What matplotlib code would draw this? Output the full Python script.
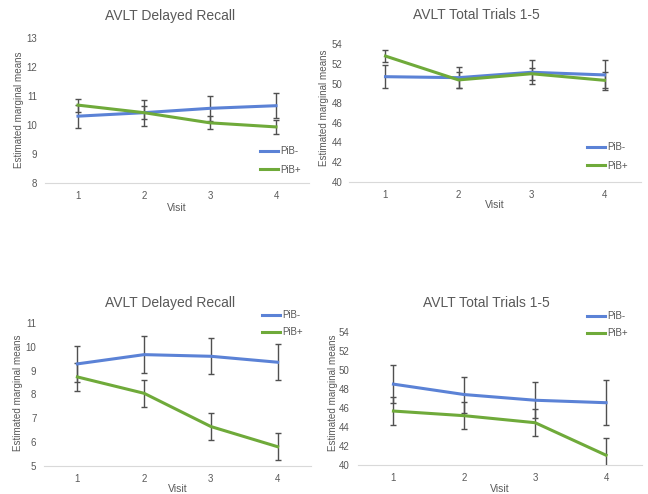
import matplotlib
matplotlib.use("Agg")
import matplotlib.pyplot as plt
import numpy as np

plt.rcParams['font.family'] = ['Liberation Sans', 'DejaVu Sans']

visits = [1, 2, 3, 4]
series_names = ["PiB-", "PiB+"]

# Panel 1: AVLT Delayed Recall (top)
dr1_neg = [10.30, 10.42, 10.57, 10.66]
dr1_neg_err = [0.40, 0.22, 0.42, 0.42]
dr1_pos = [10.68, 10.42, 10.07, 9.93]
dr1_pos_err = [0.22, 0.45, 0.22, 0.25]

# Panel 2: AVLT Total Trials 1-5 (top)
tt1_neg = [50.7, 50.6, 51.15, 50.88]
tt1_neg_err = [1.15, 1.1, 1.2, 1.5]
tt1_pos = [52.8, 50.37, 51.0, 50.33]
tt1_pos_err = [0.6, 0.85, 0.62, 0.8]

# Panel 3: AVLT Delayed Recall (bottom)
dr2_neg = [9.29, 9.68, 9.61, 9.36]
dr2_neg_err = [0.77, 0.77, 0.75, 0.76]
dr2_pos = [8.74, 8.05, 6.65, 5.80]
dr2_pos_err = [0.58, 0.56, 0.58, 0.58]

# Panel 4: AVLT Total Trials 1-5 (bottom)
tt2_neg = [48.5, 47.4, 46.8, 46.54]
tt2_neg_err = [2.0, 1.9, 1.9, 2.35]
tt2_pos = [45.66, 45.17, 44.43, 41.0]
tt2_pos_err = [1.45, 1.45, 1.4, 1.8]

titles = ["AVLT Delayed Recall", "AVLT Total Trials 1-5",
          "AVLT Delayed Recall", "AVLT Total Trials 1-5"]
ylabel = "Estimated marginal means"
xlabel = "Visit"

BLUE = "#5B82D6"
GREEN = "#6FAA3A"
ERR = "#505050"
TXT = "#595959"

W, H = 648, 494
fig = plt.figure(figsize=(W / 100, H / 100), dpi=100)


def px_axes(x0, x1, ytop, ybot):
    return fig.add_axes([x0 / W, (H - ybot) / H, (x1 - x0) / W, (ybot - ytop) / H])


panels = [
    dict(box=(45, 309, 37.7, 183), ylim=(8, 13), step=1, pad=5.5,
         data=(dr1_neg, dr1_neg_err, dr1_pos, dr1_pos_err),
         title_xy=(170, 16), ylab_x=19, ylab_y=110, xlab_y=208,
         leg=(260, 146), lsp=0.9),
    dict(box=(349, 641, 44.3, 181.7), ylim=(40, 54), step=2, pad=4.5,
         data=(tt1_neg, tt1_neg_err, tt1_pos, tt1_pos_err),
         title_xy=(476, 15), ylab_x=324, ylab_y=108, xlab_y=205,
         leg=(587, 142), lsp=0.9),
    dict(box=(44, 311, 323.3, 465.7), ylim=(5, 11), step=1, pad=5.5,
         data=(dr2_neg, dr2_neg_err, dr2_pos, dr2_pos_err),
         title_xy=(170, 303), ylab_x=18, ylab_y=393, xlab_y=489,
         leg=(262, 310), lsp=0.75),
    dict(box=(358, 641.5, 332, 464.7), ylim=(40, 54), step=2, pad=6,
         data=(tt2_neg, tt2_neg_err, tt2_pos, tt2_pos_err),
         title_xy=(486, 303), ylab_x=333, ylab_y=393, xlab_y=489,
         leg=(587, 311), lsp=0.75),
]

for p, title in zip(panels, titles):
    x0, x1, yt, yb = p["box"]
    ax = px_axes(x0, x1, yt, yb)
    neg, neg_err, pos, pos_err = p["data"]
    ax.errorbar(visits, neg, yerr=neg_err, color=BLUE, lw=2.2, ecolor=ERR,
                elinewidth=1.0, capsize=2.5, capthick=1.0, label=series_names[0], zorder=3)
    ax.errorbar(visits, pos, yerr=pos_err, color=GREEN, lw=2.2, ecolor=ERR,
                elinewidth=1.0, capsize=2.5, capthick=1.0, label=series_names[1], zorder=3)
    ax.set_xlim(0.5, 4.5)
    ax.set_ylim(*p["ylim"])
    ax.set_yticks(np.arange(p["ylim"][0], p["ylim"][1] + 0.01, p["step"]))
    ax.set_xticks(visits)
    ax.tick_params(axis="y", length=0, labelsize=7, colors=TXT, pad=p["pad"])
    ax.tick_params(axis="x", length=0, labelsize=7, colors=TXT, pad=6)
    for s in ("top", "right", "left"):
        ax.spines[s].set_visible(False)
    ax.spines["bottom"].set_color("#D9D9D9")
    ax.patch.set_alpha(0)

    tx, ty = p["title_xy"]
    fig.text(tx / W, 1 - ty / H, title, ha="center", va="center",
             fontsize=10, color=TXT)
    fig.text(p["ylab_x"] / W, 1 - p["ylab_y"] / H, ylabel, rotation=90,
             ha="center", va="center", fontsize=7.1, color=TXT)
    fig.text(((x0 + x1) / 2) / W, 1 - p["xlab_y"] / H, xlabel,
             ha="center", va="center", fontsize=7.5, color=TXT)
    lx, ly = p["leg"]
    handles = [plt.Line2D([], [], color=BLUE, lw=2.2),
               plt.Line2D([], [], color=GREEN, lw=2.2)]
    fig.legend(handles, series_names, loc="upper left",
               bbox_to_anchor=(lx / W, 1 - ly / H), frameon=False,
               fontsize=7, handlelength=1.9, handletextpad=0.15,
               labelspacing=p["lsp"], borderpad=0, borderaxespad=0,
               labelcolor=TXT)

fig.savefig("out.png", dpi=100)
